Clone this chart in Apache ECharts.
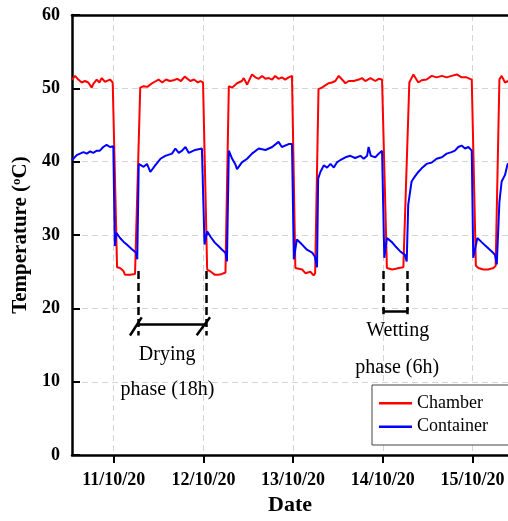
<!DOCTYPE html>
<html>
<head>
<meta charset="utf-8">
<script src="https://cdn.jsdelivr.net/npm/echarts@6/dist/echarts.min.js"></script>
<style>html,body{margin:0;padding:0;background:#fff;overflow:hidden}#c{width:508px;height:521px}</style>
</head>
<body>
<div id="c"></div>
<script>
// hours relative to 11/10/20 00:00
const dateTicks = [0, 24, 48, 72, 96];
const dateLabels = ['11/10/20', '12/10/20', '13/10/20', '14/10/20', '15/10/20'];
const yTicks = [0, 10, 20, 30, 40, 50, 60];

const chamber = [
  [-11.16, 51.2], [-10.97, 51.4], [-10.35, 51.7], [-9.47, 51.2], [-8.56, 50.8], [-7.68, 51.0], [-6.80, 50.8], [-5.89, 50.1], [-5.45, 50.6], [-4.55, 51.2], [-3.84, 50.8], [-3.21, 51.4], [-2.33, 50.9], [-1.87, 51.1], [-0.99, 51.2], [-0.27, 50.8],
  [0.9, 25.6], [1.7, 25.5], [2.6, 25.1], [3.0, 24.6], [4.4, 24.6], [5.7, 24.7], [6.2, 24.9],
  [7.1, 50.1], [8.0, 50.3], [9.0, 50.2], [10.0, 50.6], [11.0, 50.9], [12.0, 51.2], [13.0, 50.8], [14.0, 51.2], [15.0, 51.0], [16.0, 51.1], [17.0, 51.3], [18.0, 51.0], [19.0, 51.6], [19.5, 51.8], [20.5, 51.0], [21.5, 51.2], [22.5, 50.8], [23.2, 51.0], [23.9, 50.8],
  [25.0, 25.3], [26.0, 25.0], [27.0, 24.6], [28.0, 24.6], [29.0, 24.7], [29.9, 24.9],
  [30.8, 50.3], [31.7, 50.1], [33.0, 50.7], [34.3, 51.0], [34.8, 51.4], [35.7, 50.5], [37.0, 51.9], [37.9, 51.5], [38.8, 51.3], [39.7, 51.7], [40.6, 51.3], [41.5, 51.4], [42.4, 51.2], [43.2, 51.7], [44.1, 51.3], [45.0, 51.5], [45.9, 51.2], [46.8, 51.5], [47.7, 51.7],
  [48.6, 25.5], [49.5, 25.4], [50.4, 25.3], [51.3, 24.8], [52.6, 25.0], [53.5, 24.5], [53.9, 24.8],
  [54.8, 49.9], [55.7, 50.1], [56.6, 50.4], [57.5, 50.7], [58.4, 50.8], [59.3, 51.0], [60.2, 51.7], [61.1, 51.2], [62.0, 50.7], [62.9, 51.0], [64.2, 51.0], [65.6, 51.2], [66.4, 51.4], [67.3, 51.0], [68.7, 51.4], [70.0, 51.0], [70.9, 51.3], [71.8, 51.2],
  [73.1, 25.5], [74.5, 25.3], [75.5, 25.4], [76.3, 25.5], [77.5, 25.6], [77.9, 25.8],
  [79.1, 50.8], [80.2, 51.9], [81.5, 50.8], [82.4, 51.1], [83.7, 51.2], [85.1, 51.7], [86.4, 51.5], [87.8, 51.7], [89.1, 51.5], [90.4, 51.7], [91.8, 51.9], [93.1, 51.5], [94.4, 51.5], [95.8, 51.2],
  [96.9, 25.8], [97.6, 25.5], [98.9, 25.3], [100.2, 25.3], [101.6, 25.5], [102.2, 25.8],
  [103.2, 51.2], [103.8, 51.7], [104.7, 50.8], [105.5, 51.0]
];

const container = [
  [-11.16, 40.2], [-10.97, 40.4], [-9.9, 40.9], [-9.0, 41.1], [-8.1, 41.3], [-7.2, 41.1], [-6.3, 41.4], [-5.5, 41.2], [-4.5, 41.5], [-3.7, 41.5], [-2.8, 42.0], [-1.9, 42.3], [-1.0, 42.0], [-0.1, 42.1],
  [0.3, 28.5], [0.7, 30.3], [1.7, 29.6], [2.6, 29.1], [3.5, 28.7], [4.8, 28.1], [6.0, 27.6], [6.3, 26.7],
  [6.7, 39.7], [7.1, 39.7], [8.0, 39.3], [8.9, 39.7], [9.8, 38.6], [11.1, 39.5], [12.5, 40.4], [13.8, 40.8], [15.6, 41.1], [16.5, 41.8], [17.4, 41.2], [18.3, 41.5], [19.2, 42.0], [20.1, 41.2], [21.8, 41.6], [23.6, 41.8], [24.1, 41.8],
  [24.3, 28.7], [25.0, 30.5], [26.0, 29.7], [27.0, 29.0], [28.0, 28.5], [29.0, 28.0], [29.9, 27.6], [30.3, 26.4],
  [30.8, 41.5], [31.7, 40.4], [32.5, 39.7], [33.0, 39.0], [34.3, 39.9], [35.7, 40.4], [37.0, 41.1], [38.8, 41.8], [40.6, 41.6], [42.4, 42.0], [44.1, 42.7], [45.0, 42.0], [46.8, 42.4], [47.7, 42.4], [48.0, 42.3],
  [48.2, 26.7], [49.0, 29.4], [50.4, 28.7], [51.7, 28.0], [53.1, 27.6], [53.8, 27.1], [54.4, 25.6],
  [54.7, 37.7], [55.3, 38.6], [56.2, 39.5], [57.1, 39.2], [58.0, 39.7], [58.9, 39.2], [59.7, 39.9], [60.6, 40.2], [62.0, 40.6], [63.3, 40.8], [64.6, 40.5], [66.0, 40.8], [66.9, 40.4], [67.8, 40.8], [68.2, 42.0], [68.8, 40.8], [70.0, 40.6], [70.9, 41.1], [71.8, 41.5],
  [72.4, 26.9], [73.1, 29.6], [74.5, 29.0], [75.5, 28.4], [76.6, 27.8], [77.9, 27.3], [78.4, 26.4],
  [78.8, 34.1], [79.7, 37.3], [80.6, 38.0], [81.5, 38.6], [82.4, 39.1], [83.7, 39.7], [85.1, 39.9], [86.4, 40.4], [87.8, 40.6], [89.1, 41.1], [90.4, 41.3], [91.3, 41.5], [92.2, 42.0], [93.1, 42.2], [94.0, 41.8], [94.9, 42.0], [95.8, 41.5],
  [96.2, 26.9], [97.3, 29.6], [98.5, 29.0], [100.0, 28.3], [101.5, 27.6], [102.0, 27.3], [102.5, 26.0],
  [103.2, 34.5], [103.8, 37.3], [104.7, 38.2], [105.3, 39.5], [105.5, 39.8]
];

// annotation geometry (data coordinates: hours, °C)
const dryingSpan = [6.58, 24.88];
const wettingSpan = [72.13, 78.66];
const annotationTexts = [
  { name: 'Drying', value: [14.3, 13.65] },
  { name: 'phase (18h)', value: [14.4, 8.97] },
  { name: 'Wetting', value: [76.0, 16.9] },
  { name: 'phase (6h)', value: [75.85, 11.95] }
];

const SERIF = '"Liberation Serif", "Times New Roman", serif';
const chart = echarts.init(document.getElementById('c'), null, { renderer: 'canvas' });

const dashed = [
  { coords: [[dryingSpan[0], 25.1], [dryingSpan[0], 16.3]] },
  { coords: [[dryingSpan[1], 25.1], [dryingSpan[1], 16.3]] },
  { coords: [[wettingSpan[0], 25.1], [wettingSpan[0], 19.7]] },
  { coords: [[wettingSpan[1], 25.1], [wettingSpan[1], 19.7]] }
];
const solid = [
  { coords: [[dryingSpan[0], 17.88], [dryingSpan[1], 17.88]] },
  { coords: [[dryingSpan[0] - 2.22, 16.31], [dryingSpan[0] + 0.91, 18.78]] },
  { coords: [[dryingSpan[1] - 2.68, 16.35], [dryingSpan[1] + 0.89, 18.78]] },
  { coords: [[wettingSpan[0], 19.6], [wettingSpan[1], 19.6]] },
  { coords: [[wettingSpan[0], 20.0], [wettingSpan[0], 19.2]] },
  { coords: [[wettingSpan[1], 20.0], [wettingSpan[1], 19.2]] }
];

const xMin = -11.16, xMax = 105.5;

chart.setOption({
  animation: false,
  backgroundColor: '#fff',
  grid: { left: 72, right: 0, top: 15, bottom: 62, show: false },
  legend: {
    data: ['Chamber', 'Container'],
    orient: 'vertical', left: 372, top: 385,
    icon: 'rect', itemWidth: 33, itemHeight: 2.5, itemGap: 5.4,
    padding: [9.3, 34, 9.3, 7],
    borderColor: '#444', borderWidth: 1, backgroundColor: '#fff',
    textStyle: { fontFamily: SERIF, fontSize: 18, color: '#000' }
  },
  xAxis: [{
    type: 'value', min: xMin, max: xMax,
    name: 'Date', nameLocation: 'middle', nameGap: 35,
    nameTextStyle: { fontFamily: SERIF, fontSize: 22, fontWeight: 'bold', color: '#000' },
    axisLine: { show: true, onZero: false, lineStyle: { color: '#000', width: 2.5 } },
    axisTick: { show: true, customValues: dateTicks, length: 8, lineStyle: { color: '#000', width: 2 } },
    axisLabel: {
      customValues: dateTicks, margin: 16,
      formatter: v => dateLabels[dateTicks.indexOf(v)] || '',
      fontFamily: SERIF, fontSize: 18, fontWeight: 'bold', color: '#000'
    },
    splitLine: { show: true, lineStyle: { type: [6, 4], color: '#d4d4d4', width: 1 } }
  }, {
    type: 'value', position: 'top', min: xMin, max: xMax,
    axisLine: { show: true, onZero: false, lineStyle: { color: '#000', width: 2.5 } },
    axisTick: { show: false }, axisLabel: { show: false }, splitLine: { show: false }
  }],
  yAxis: {
    type: 'value', min: yTicks[0], max: yTicks[yTicks.length - 1], interval: 10,
    name: 'Temperature ({s|o}C)', nameLocation: 'middle', nameGap: 35,
    nameTextStyle: {
      fontFamily: SERIF, fontSize: 21, fontWeight: 'bold', color: '#000',
      rich: { s: { fontFamily: SERIF, fontSize: 13, fontWeight: 'bold', color: '#000', verticalAlign: 'top' } }
    },
    axisLine: { show: true, onZero: false, lineStyle: { color: '#000', width: 2.5 } },
    axisTick: { show: true, inside: true, length: 8, lineStyle: { color: '#000', width: 2 } },
    axisLabel: { margin: 12, fontFamily: SERIF, fontSize: 18, fontWeight: 'bold', color: '#000' },
    splitLine: { show: true, lineStyle: { type: [6, 4], color: '#d4d4d4', width: 1 } }
  },
  series: [
    { name: 'Chamber', type: 'line', data: chamber, symbol: 'none', z: 3, lineStyle: { color: '#ff0000', width: 2 }, itemStyle: { color: '#ff0000' } },
    { name: 'Container', type: 'line', data: container, symbol: 'none', z: 3, lineStyle: { color: '#0000ff', width: 2 }, itemStyle: { color: '#0000ff' } },
    { type: 'lines', coordinateSystem: 'cartesian2d', silent: true, z: 4, data: dashed, lineStyle: { color: '#000', width: 2.5, type: [8, 4], opacity: 1 } },
    { type: 'lines', coordinateSystem: 'cartesian2d', silent: true, z: 4, data: solid, lineStyle: { color: '#000', width: 2.5, type: 'solid', opacity: 1 } },
    {
      type: 'scatter', silent: true, symbolSize: 0, z: 5, data: annotationTexts,
      itemStyle: { opacity: 1 },
      label: { show: true, position: 'inside', formatter: '{b}', fontFamily: SERIF, fontSize: 20, color: '#000', opacity: 1 }
    }
  ]
});
</script>
</body>
</html>
